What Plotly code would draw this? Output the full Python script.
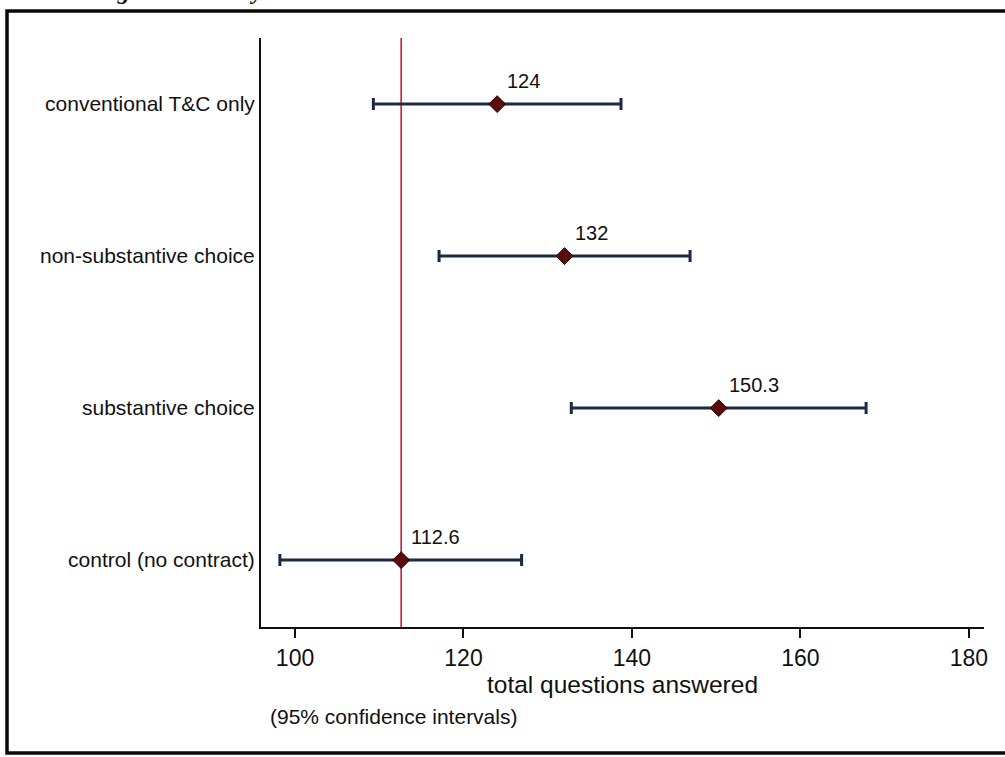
import plotly.graph_objects as go

# ---- data ----
categories = ["conventional T&C only", "non-substantive choice", "substantive choice", "control (no contract)"]
positions = [3, 2, 1, 0]
means = [124.0, 132.0, 150.3, 112.6]
ci_low = [109.3, 117.1, 132.8, 98.2]
ci_high = [138.7, 146.9, 167.8, 126.9]
control_mean = 112.6
x_ticks = [100, 120, 140, 160, 180]

FONT = "Liberation Sans, Arial, Helvetica, sans-serif"
W, H = 1005, 757
L, R, T, B = 261, 21, 38, 130
PW, PH = W - L - R, H - T - B

def px_x(px):
    return (px - L) / PW

def px_y(py):
    return (H - B - py) / PH

fig = go.Figure()

fig.add_trace(go.Scatter(
    x=means,
    y=positions,
    mode="markers",
    marker=dict(symbol="diamond", size=13, color="#5a0b0b",
                line=dict(color="#2a0404", width=1)),
    error_x=dict(type="data", symmetric=False,
                 array=[h - m for h, m in zip(ci_high, means)],
                 arrayminus=[m - l for m, l in zip(means, ci_low)],
                 color="#1c2945", thickness=3, width=6),
    showlegend=False,
    hoverinfo="x+y",
))

# reference line at control mean
fig.add_shape(type="line", xref="x", yref="paper", x0=control_mean, x1=control_mean,
              y0=0, y1=1, line=dict(color="#cc1f2c", width=1.6), layer="below")

# value labels
for m, p in zip(means, positions):
    fig.add_annotation(x=m, y=p, xref="x", yref="y", text=f"{m:g}", showarrow=False,
                       xanchor="left", yanchor="middle", xshift=8, yshift=23,
                       font=dict(family=FONT, size=20, color="#111111"))

# axis title and note
fig.add_annotation(x=0.5, y=px_y(684), xref="paper", yref="paper",
                   text="total questions answered", showarrow=False,
                   xanchor="center", yanchor="middle",
                   font=dict(family=FONT, size=24.5, color="#111111"))
fig.add_annotation(x=px_x(268), y=px_y(717), xref="paper", yref="paper",
                   text="(95% confidence intervals)", showarrow=False,
                   xanchor="left", yanchor="middle",
                   font=dict(family=FONT, size=21, color="#111111"))

# partially cut-off caption at the very top of the scan
fig.add_annotation(x=px_x(92), y=px_y(6), xref="paper", yref="paper",
                   text="<b><i>Figure 18: Study 1</i></b>", showarrow=False,
                   xanchor="left", yanchor="bottom",
                   font=dict(family="Liberation Serif, Times New Roman, serif", size=24, color="#111111"))

# outer frame of the figure box
fig.add_shape(type="rect", xref="paper", yref="paper",
              x0=px_x(7), x1=px_x(1012), y0=px_y(753), y1=px_y(11),
              line=dict(color="#0a0a0a", width=3.5), fillcolor="rgba(0,0,0,0)")

fig.update_layout(
    width=W, height=H,
    margin=dict(l=L, r=R, t=T, b=B),
    paper_bgcolor="white",
    plot_bgcolor="white",
    font=dict(family=FONT, color="#111111"),
)

fig.update_xaxes(
    range=[95.96, 181.8],
    tickvals=x_ticks,
    ticktext=[str(t) for t in x_ticks],
    ticks="outside", ticklen=9, tickwidth=2, tickcolor="#111111",
    tickfont=dict(family=FONT, size=23, color="#111111"),
    ticklabelstandoff=0,
    showline=True, linecolor="#111111", linewidth=2,
    showgrid=False, zeroline=False,
)
fig.update_yaxes(
    range=[-0.44, 3.435],
    tickvals=positions,
    ticktext=categories,
    ticks="",
    tickfont=dict(family=FONT, size=21, color="#111111"),
    ticklabelstandoff=0,
    showline=True, linecolor="#111111", linewidth=2,
    showgrid=False, zeroline=False,
)

fig.write_html("out.html",
               config={"displayModeBar": False},
               post_script="document.body.style.margin='0';document.body.style.overflow='hidden';")
